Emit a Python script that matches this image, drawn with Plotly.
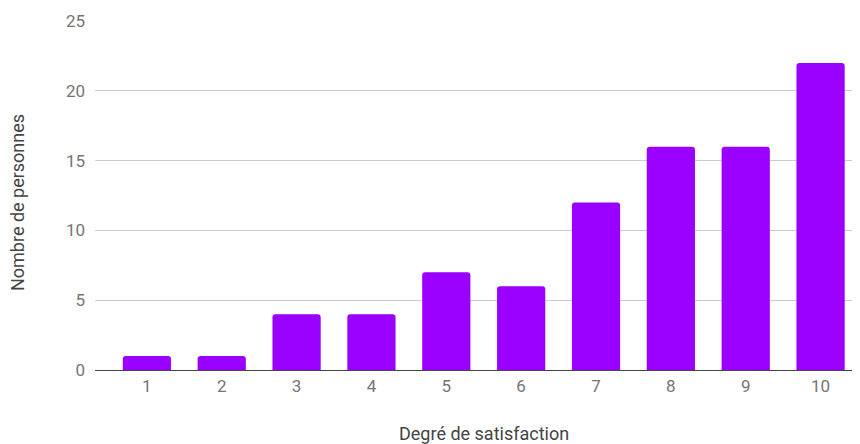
import plotly.graph_objects as go

categories = [1, 2, 3, 4, 5, 6, 7, 8, 9, 10]
values = [1, 1, 4, 4, 7, 6, 12, 16, 16, 22]
y_ticks = [0, 5, 10, 15, 20, 25]
x_title = "Degré de satisfaction"
y_title = "Nombre de personnes"

# The page body has an 8px margin, so figure coordinates = screen - 8.
OFF = 8
W, H = 852, 436
ml, mt = 95 - OFF, 21 - OFF
plot_right = 858.5 - OFF
plot_bottom = 370 - OFF
mr = W - plot_right
mb = H - plot_bottom
pw, ph = W - ml - mr, H - mt - mb

fig = go.Figure(go.Bar(
    x=categories, y=values, width=0.644,
    marker=dict(color="#9900ff", cornerradius=3, line=dict(width=0)),
    hoverinfo="x+y",
))

fig.update_layout(
    width=W, height=H,
    margin=dict(l=ml, r=mr, t=mt, b=mb, pad=0),
    paper_bgcolor="white", plot_bgcolor="white",
    font=dict(family="Roboto", color="#757575", size=17),
    showlegend=False,
    xaxis=dict(
        range=[0.307, 10.5], tickmode="array", tickvals=categories,
        ticktext=[str(c) for c in categories], showgrid=False, zeroline=False,
        showline=False, ticks="", ticklabelstandoff=4,
        tickfont=dict(size=17, color="#757575"),
    ),
    yaxis=dict(
        range=[0, 25], tickmode="array", tickvals=y_ticks,
        showgrid=True, gridcolor="#cccccc", gridwidth=1,
        zeroline=True, zerolinecolor="#444444", zerolinewidth=1,
        showline=False, ticks="", ticklabelstandoff=9,
        tickfont=dict(size=17, color="#757575"),
    ),
    annotations=[
        dict(text=x_title, xref="paper", yref="paper", x=(484 - OFF - ml) / pw,
             y=-(433 - OFF - plot_bottom) / ph, xanchor="center", yanchor="middle",
             showarrow=False, font=dict(size=18, color="#444444")),
        dict(text=y_title, xref="paper", yref="paper", x=-(ml - (18 - OFF)) / pw,
             y=1 - (203 - OFF - mt) / ph, xanchor="center", yanchor="middle",
             textangle=-90, showarrow=False, font=dict(size=18, color="#444444")),
    ],
)

fig.write_html("out.html")
